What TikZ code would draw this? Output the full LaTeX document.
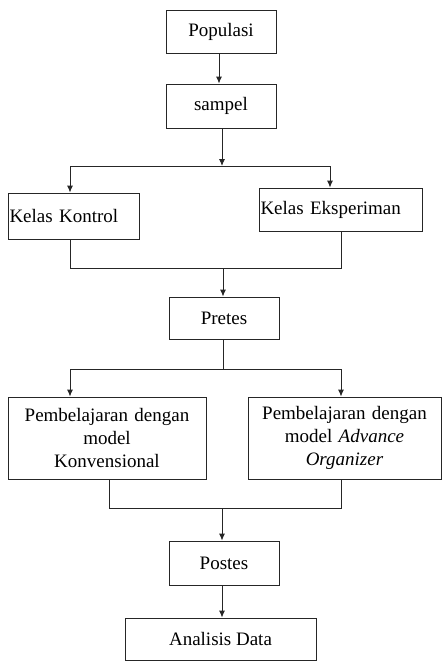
\documentclass[tikz,border=0pt]{standalone}
\usepackage{fontspec}
\setmainfont{Liberation Serif}
\usetikzlibrary{arrows.meta}
\begin{document}
\begin{tikzpicture}[x=1pt,y=-1pt,
  box/.style={draw=black!85, line width=0.9pt, inner sep=0pt, font=\fontsize{19}{23}\selectfont},
  conn/.style={draw=black!85, line width=0.9pt},
  arr/.style={conn, -{Latex[length=7pt,width=6pt]}}]
\useasboundingbox (0,0) rectangle (442,661);
\fill[white] (0,0) rectangle (442,661);
\node[box, minimum width=110pt, minimum height=43pt] (pop) at (221,31.5) {Populasi};
\node[box, minimum width=110pt, minimum height=44pt] (sam) at (221,106) {sampel};
\node[box, minimum width=131pt, minimum height=46pt, text width=128pt, align=left] (kon) at (73.5,216) {Kelas Kontrol};
\node[box, minimum width=163pt, minimum height=43pt, text width=160pt, align=left] (eks) at (340.5,209.5) {Kelas Eksperiman};
\node[box, minimum width=110pt, minimum height=42pt] (pre) at (224,318) {Pretes};
\node[box, minimum width=198pt, minimum height=82pt, text width=190pt, align=center] (kv) at (107,438) {Pembelajaran dengan\\model\\Konvensional};
\node[box, minimum width=193pt, minimum height=82pt, text width=188pt, align=center] (ao) at (344.5,438) {Pembelajaran dengan\\model \textit{Advance}\\\textit{Organizer}};
\node[box, minimum width=110pt, minimum height=44pt] (pos) at (224,563) {Postes};
\node[box, minimum width=191pt, minimum height=42pt] (ana) at (220.5,639) {Analisis Data};

\coordinate (j1) at (222,166);
\coordinate (j1l) at (70,166);
\coordinate (j1r) at (330,166);
\coordinate (j2l) at (70,268);
\coordinate (j2r) at (341,268);
\coordinate (j2) at (223,268);
\coordinate (j3) at (223,369);
\coordinate (j3l) at (70,369);
\coordinate (j3r) at (341,369);
\coordinate (j4l) at (109,508);
\coordinate (j4r) at (341,508);
\coordinate (j4) at (222,508);

\draw[arr] (pop.south -| 219,0) -- (sam.north -| 219,0);
\draw[arr] (sam.south -| j1) -- (j1);
\draw[conn] (j1l) -- (j1r);
\draw[arr] (j1l) -- (kon.north -| j1l);
\draw[arr] (j1r) -- (eks.north -| j1r);
\draw[conn] (kon.south -| j2l) -- (j2l) -- (j2r) -- (eks.south -| j2r);
\draw[arr] (j2) -- (pre.north -| j2);
\draw[conn] (pre.south -| j3) -- (j3);
\draw[conn] (j3l) -- (j3r);
\draw[arr] (j3l) -- (kv.north -| j3l);
\draw[arr] (j3r) -- (ao.north -| j3r);
\draw[conn] (kv.south -| j4l) -- (j4l) -- (j4r) -- (ao.south -| j4r);
\draw[arr] (j4) -- (pos.north -| j4);
\draw[arr] (pos.south -| j4) -- (ana.north -| j4);
\end{tikzpicture}
\end{document}
